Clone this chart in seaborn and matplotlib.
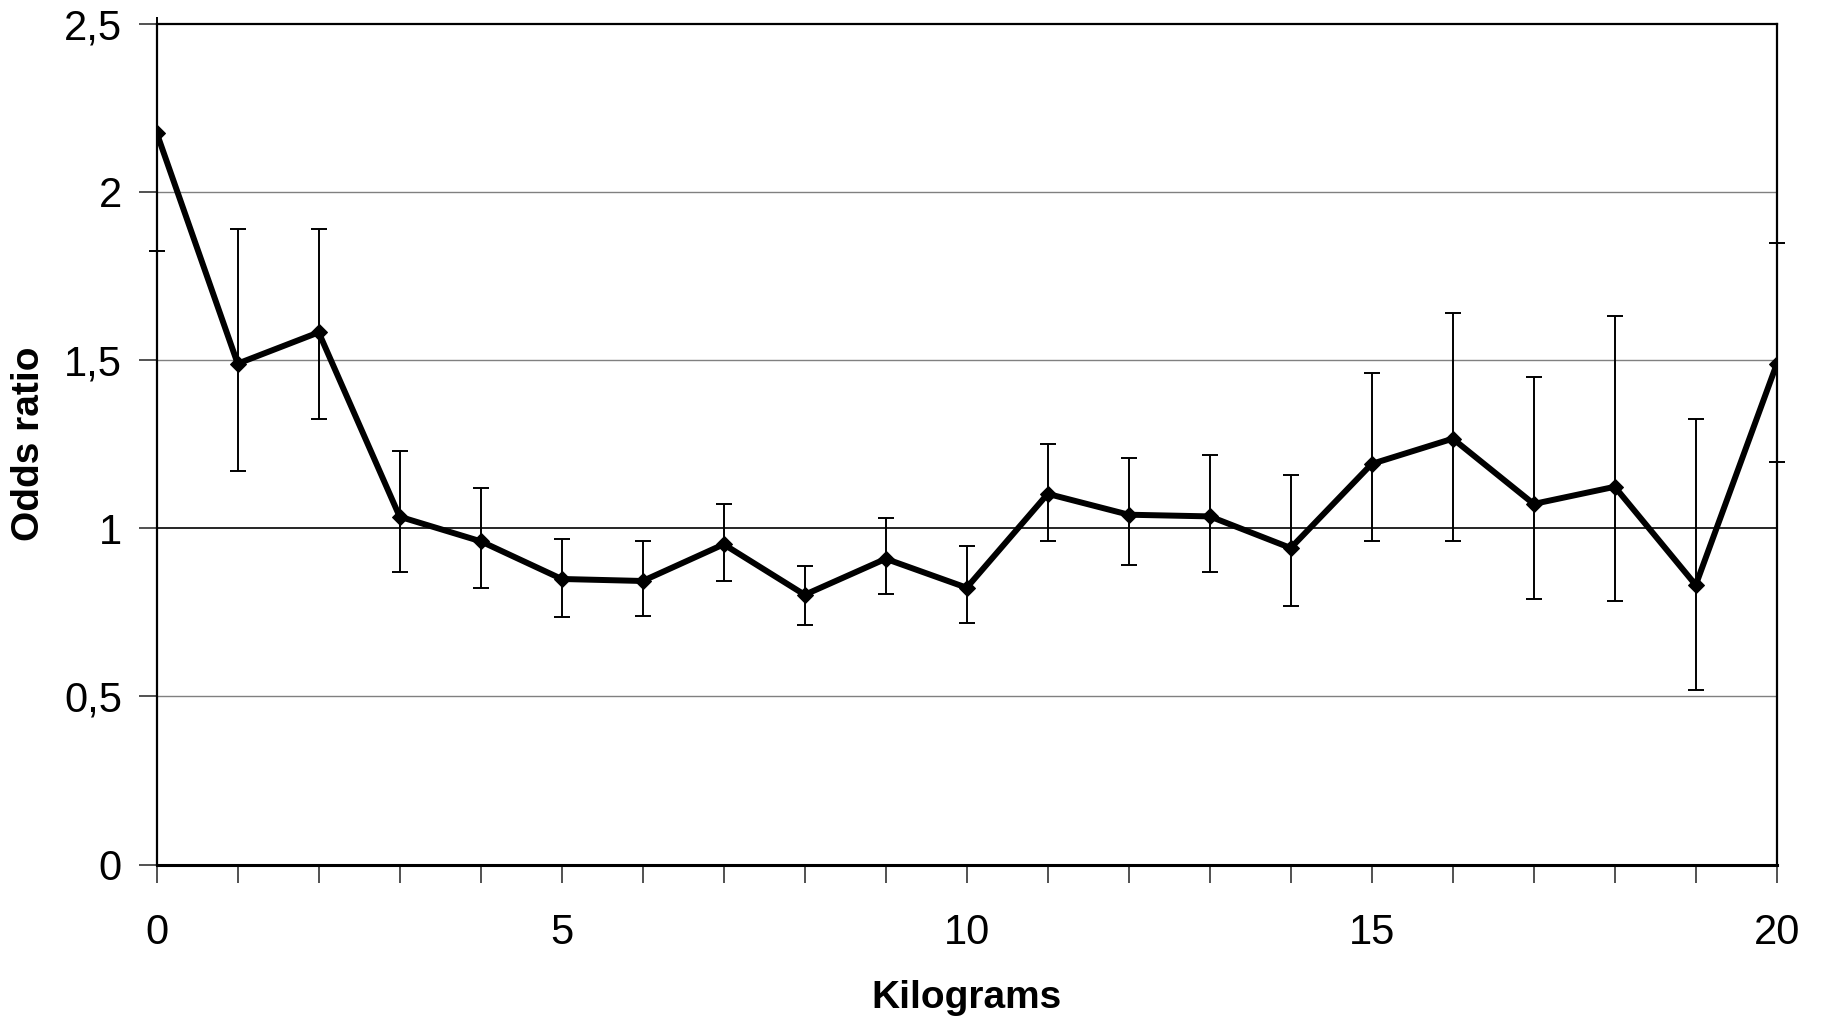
import matplotlib
matplotlib.use("Agg")
import matplotlib.pyplot as plt
import seaborn as sns
import pandas as pd
from matplotlib.patches import Rectangle
from matplotlib.ticker import MultipleLocator, FuncFormatter

# Values
kilograms = list(range(21))
odds_ratio = [2.175, 1.489, 1.582, 1.034, 0.961, 0.849, 0.843, 0.952, 0.802, 0.909, 0.823,
              1.102, 1.040, 1.035, 0.941, 1.191, 1.266, 1.072, 1.123, 0.831, 1.488]
ci_low = [1.825, 1.171, 1.324, 0.869, 0.823, 0.737, 0.738, 0.842, 0.711, 0.804, 0.718,
          0.961, 0.890, 0.869, 0.769, 0.961, 0.961, 0.790, 0.783, 0.520, 1.196]
ci_high = [2.60, 1.889, 1.889, 1.230, 1.118, 0.967, 0.963, 1.073, 0.889, 1.031, 0.947,
           1.251, 1.210, 1.216, 1.158, 1.461, 1.641, 1.448, 1.632, 1.323, 1.847]

df = pd.DataFrame({"Kilograms": kilograms, "Odds ratio": odds_ratio,
                   "low": ci_low, "high": ci_high})

sns.set_theme(style="white")
plt.rcParams['font.family'] = ['Liberation Sans', 'DejaVu Sans']
plt.rcParams['text.color'] = 'black'
plt.rcParams['axes.labelcolor'] = 'black'

fig = plt.figure(figsize=(18.24, 10.22), dpi=100)
ax = fig.add_axes([0.0859, 0.154, 0.8882, 0.823])

# gridlines and reference line at 1
for v in [0.5, 1.5, 2.0]:
    ax.axhline(v, color='#808080', lw=1.0, zorder=1)
ax.axhline(1.0, color='black', lw=1.2, zorder=1)

# error bars
eb = ax.errorbar(df["Kilograms"], df["Odds ratio"],
                 yerr=[df["Odds ratio"] - df["low"], df["high"] - df["Odds ratio"]],
                 fmt='none', ecolor='black', elinewidth=1.4, capsize=6, capthick=1.4, zorder=2)
clip = Rectangle((-0.01, -0.01), 1.02, 1.018, transform=ax.transAxes, visible=False)
ax.add_patch(clip)
for c in eb.lines[1]:
    c.set_clip_path(clip)
for c in eb.lines[2]:
    c.set_clip_path(clip)

# main line
sns.lineplot(data=df, x="Kilograms", y="Odds ratio", ax=ax, color='black', lw=4.3,
             marker='D', markersize=8, markeredgecolor='black', zorder=3)

ax.set_xlim(0, 20)
ax.set_ylim(0, 2.5)
ax.xaxis.set_major_locator(MultipleLocator(1))
ax.xaxis.set_major_formatter(FuncFormatter(lambda v, p: f"{int(round(v))}" if int(round(v)) % 5 == 0 else ""))
ax.yaxis.set_major_locator(MultipleLocator(0.5))
ax.yaxis.set_major_formatter(FuncFormatter(lambda v, p: f"{v:g}".replace('.', ',')))

ax.tick_params(axis='x', which='major', direction='out', length=13, width=1.2,
               color='#333333', labelcolor='black', labelsize=30, pad=22, bottom=True)
ax.tick_params(axis='y', which='major', direction='out', length=13, width=1.2,
               color='#333333', labelcolor='black', labelsize=30, pad=12, left=True)

for side in ['left', 'right', 'top']:
    ax.spines[side].set_color('black')
    ax.spines[side].set_linewidth(1.6)
ax.spines['bottom'].set_color('black')
ax.spines['bottom'].set_linewidth(2.2)

ax.set_xlabel("Kilograms", fontsize=28, fontweight='bold', va='center')
ax.set_ylabel("Odds ratio", fontsize=28, fontweight='bold', va='center', ha='center')
ax.xaxis.set_label_coords(0.5, -0.159)
ax.yaxis.set_label_coords(-0.079, 0.5)

fig.savefig("out.png", dpi=100)
